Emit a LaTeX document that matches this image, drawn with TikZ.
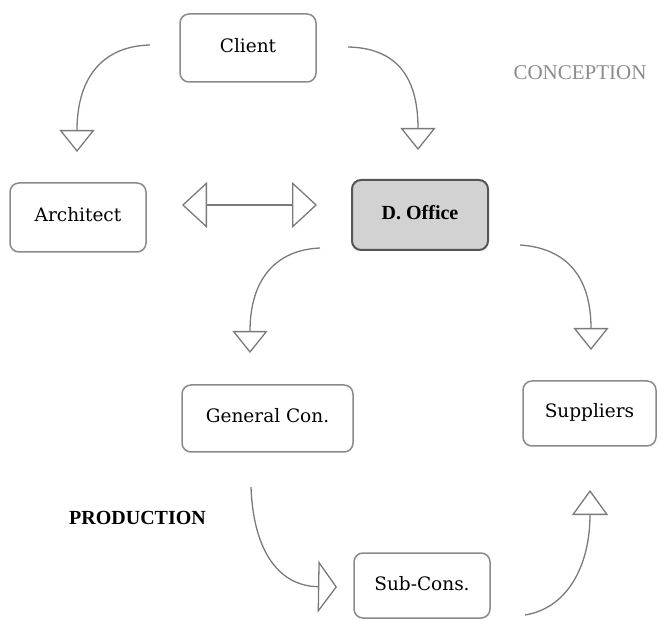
\documentclass[tikz,border=0pt]{standalone}
\usepackage{fontspec}
\setmainfont{DejaVu Serif}
\newfontfamily\boldserif{Liberation Serif}
\usetikzlibrary{arrows.meta}
\definecolor{boxline}{HTML}{8A8A8A}
\definecolor{arrline}{HTML}{7A7A7A}
\definecolor{officefill}{HTML}{D2D2D2}
\definecolor{officeline}{HTML}{555555}
\definecolor{concept}{HTML}{8C8C8C}
\begin{document}
\begin{tikzpicture}[x=1pt,y=-1pt,
  box/.style={draw=boxline, line width=1.5pt, rounded corners=9pt, fill=white,
    font=\fontsize{18.5}{22}\selectfont, text height=13pt, text depth=4pt,
    minimum width=136pt, minimum height=68pt, inner sep=0pt},
  flow/.style={draw=arrline, line width=1.3pt,
    -{Triangle[open, length=22pt, width=35pt]}},
  tipbig/.style={Triangle[open, length=25pt, width=46pt]},
  lbl/.style={anchor=base, inner sep=0pt}
]
\useasboundingbox (0,0) rectangle (662,620);

% boxes
\node[box] (client) at (248,48) {Client};
\node[box, minimum height=69pt] (arch) at (78,217.5) {Architect};
\node[box, fill=officefill, draw=officeline, line width=2pt, minimum height=70pt]
  (office) at (420,215) {\boldserif\bfseries\fontsize{20}{24}\selectfont D. Office};
\node[box, minimum width=171pt, minimum height=67pt] (gen) at (267.5,418.5) {General Con.};
\node[box, minimum width=133pt, minimum height=65pt] (sup) at (589.5,413.5) {Suppliers};
\node[box, minimum height=65pt] (sub) at (422,585.5) {Sub-Cons.};

% labels
\node[lbl, font=\boldserif\bfseries\fontsize{20}{24}\selectfont] (prod) at (137.5,524) {PRODUCTION};
\node[lbl, text=concept, font=\boldserif\fontsize{21}{24}\selectfont] (conc) at (580,80) {CONCEPTION};

% connector end points
\coordinate (c1s) at (150,45);  \coordinate (c1e) at (77,152);
\coordinate (c2s) at (348,47);  \coordinate (c2e) at (418,150);
\coordinate (c3s) at (320,248); \coordinate (c3e) at (250,353);
\coordinate (c4s) at (520,245); \coordinate (c4e) at (591,350);
\coordinate (c5s) at (251,487); \coordinate (c5e) at (337,587);
\coordinate (c6s) at (525,615); \coordinate (c6e) at (590,490);
\coordinate (dl) at (182,205);  \coordinate (dr) at (317,205);

% connectors
\draw[flow] (c1s) .. controls (105,46) and (77,75) .. (c1e);
\draw[flow] (c2s) .. controls (395,48) and (418,75) .. (c2e);
\draw[flow] (c3s) .. controls (275,250) and (250,280) .. (c3e);
\draw[flow] (c4s) .. controls (565,248) and (591,275) .. (c4e);
\draw[flow, -{Triangle[open, length=19pt, width=52pt]}]
  (c5s) .. controls (253,545) and (275,586) .. (c5e);
\draw[flow, -{Triangle[open, length=25pt, width=36pt]}]
  (c6s) .. controls (568,608) and (590,565) .. (c6e);
\draw[flow, {Triangle[open, length=25pt, width=46pt]}-{Triangle[open, length=25pt, width=46pt]}]
  (dl) -- (dr);
\end{tikzpicture}
\end{document}
